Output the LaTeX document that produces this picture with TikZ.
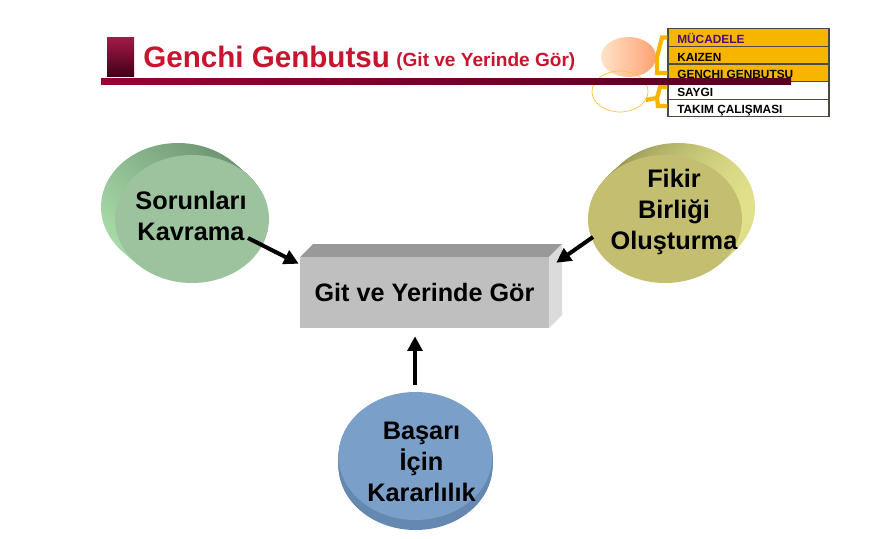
\documentclass[tikz,border=0pt]{standalone}
\usepackage{fontspec}
\setmainfont{Liberation Sans}
\usepackage{tikz}
\usetikzlibrary{arrows.meta,calc,shapes.geometric}
\definecolor{barred}{HTML}{9A0033}
\definecolor{bardark}{HTML}{520020}
\definecolor{titlered}{HTML}{C8152F}
\definecolor{menugold}{HTML}{F7B500}
\definecolor{menuline}{HTML}{4A4A40}
\definecolor{menupurple}{HTML}{4B0A80}
\definecolor{greenface}{HTML}{9CC29E}
\definecolor{greenlight}{HTML}{A8DAA8}
\definecolor{greendark}{HTML}{6F9573}
\definecolor{olivface}{HTML}{C4BF70}
\definecolor{olivlight}{HTML}{E2E28C}
\definecolor{olivdark}{HTML}{8E8E4E}
\definecolor{blueface}{HTML}{7A9FC9}
\definecolor{blueside}{HTML}{6488B0}
\tikzset{
  disc/.style={ellipse,inner sep=0pt,minimum width=154\pxu,minimum height=128\pxu},
  disctext/.style={font=\fontsize{19}{23}\selectfont\bfseries,align=center,text=black},
  menubox/.style={draw=menuline,line width=0.9pt,minimum width=161\pxu,minimum height=17.5\pxu,inner sep=0pt},
  menutext/.style={font=\fontsize{8.9}{10}\selectfont\bfseries,anchor=west,inner sep=0pt},
  flowarrow/.style={line width=3pt,-{Triangle[length=11pt,width=11pt]}},
  bracket/.style={draw=menugold,line width=3.2pt}
}
\newcommand{\pxu}{*0.75pt}
\begin{document}
\begin{tikzpicture}[x=0.75pt,y=-0.75pt]
\useasboundingbox (0,0) rectangle (896,539);
% header
\node (logo) [rectangle,minimum width=27\pxu,minimum height=39\pxu,inner sep=0pt,top color=barred!90!white,bottom color=bardark!80!black] at (120.5,56.5) {};
\node (title) [anchor=base west,inner sep=0pt,text=titlered,font=\fontsize{22.2}{26}\selectfont\bfseries] at (143,67) {Genchi Genbutsu};
\node (subtitle) [anchor=base west,inner sep=0pt,text=titlered,font=\fontsize{14.3}{17}\selectfont\bfseries] at (396,66) {(Git ve Yerinde Gör)};
% small ellipses
\node (peach) [ellipse,inner sep=0pt,minimum width=55\pxu,minimum height=40\pxu,left color=orange!22!white,right color=orange!65!red!55!white] at (628.5,57) {};
\node (hollow) [ellipse,inner sep=0pt,draw=menugold!80!white,line width=0.5pt,minimum width=56\pxu,minimum height=41\pxu] at (620,91.5) {};
% menu
\node (mucadele) [menubox,fill=menugold] at (748.5,37.5) {};
\node (kaizen) [menubox,fill=menugold] at (748.5,55) {};
\node (genchi) [menubox,fill=menugold] at (748.5,73) {};
\node (saygi) [menubox,fill=white] at (748.5,90.5) {};
\node (takim) [menubox,fill=white] at (748.5,108) {};
\node [menutext,text=menupurple] at (677,38.5) {MÜCADELE};
\node [menutext] at (677,57) {KAIZEN};
\node [menutext] at (677,74.5) {GENCHI GENBUTSU};
\node [menutext] at (677,92) {SAYGI};
\node [menutext] at (677,111) {TAKIM ÇALIŞMASI};
% brackets
\coordinate (upperjoin) at (657,57);
\coordinate (lowerjoin) at (657,98);
\draw [bracket] (mucadele.west) -- (662,37.5) -- (upperjoin) -- (657,73) -- (genchi.west);
\draw [bracket] (peach.east) -- (upperjoin);
\draw [bracket] (saygi.west |- 0,87) -- (660,87) -- (lowerjoin) -- (658,106) -- (takim.west |- 0,106);
\draw [bracket] (hollow.-18) -- (lowerjoin);
% rule
\fill [left color=barred,right color=bardark] (101,78) rectangle (791,84);
% green disc
\foreach \i in {0,...,13}
  \node [disc,top color=greendark,bottom color=greenlight,shading angle=-45] at ($(178,207)+(\i,\i*12/14)$) {};
\node (sorunlar) [disc,fill=greenface] at (192,219) {};
\node (sorunlartext) [disctext] at (191,216) {Sorunları\\Kavrama};
% yellow disc
\foreach \i in {0,...,12}
  \node [disc,left color=olivdark,right color=olivlight] at ($(678,207)+(-\i,\i*12/13)$) {};
\node (fikir) [disc,fill=olivface] at (665,219) {};
\node (fikirtext) [disctext] at (674,212) {Fikir\\Birliği\\Oluşturma};
% blue disc
\foreach \i in {0,...,9}
  \node [disc,fill=blueside] at ($(415.5,466)+(0,-\i)$) {};
\node (basari) [disc,fill=blueface] at (415.5,456) {};
\node (basaritext) [disctext] at (421.5,462) {Başarı\\İçin\\Kararlılık};
% center box
\fill [black!40] (300,257) -- (313,244) -- (562,244) -- (549,257) -- cycle;
\fill [black!14] (549,257) -- (562,244) -- (562,315) -- (549,328) -- cycle;
\node (gitbox) [rectangle,inner sep=0pt,fill=black!25,minimum width=249\pxu,minimum height=71\pxu,font=\fontsize{18.9}{22}\selectfont\bfseries] at (424.5,292.5) {Git ve Yerinde Gör};
% arrows
\coordinate (gitleft) at ($(gitbox.north west)+(-1,7)$);
\coordinate (gitright) at ($(gitbox.north east)+(7,6)$);
\coordinate (gitbottom) at ($(gitbox.south)+(-9.5,8)$);
\coordinate (sorunlarout) at (248,238);
\coordinate (fikirout) at (593,237);
\coordinate (basariout) at (415,385);
\draw [flowarrow] (sorunlarout) -- (gitleft);
\draw [flowarrow] (fikirout) -- (gitright);
\draw [flowarrow] (basariout) -- (gitbottom);
\end{tikzpicture}
\end{document}
